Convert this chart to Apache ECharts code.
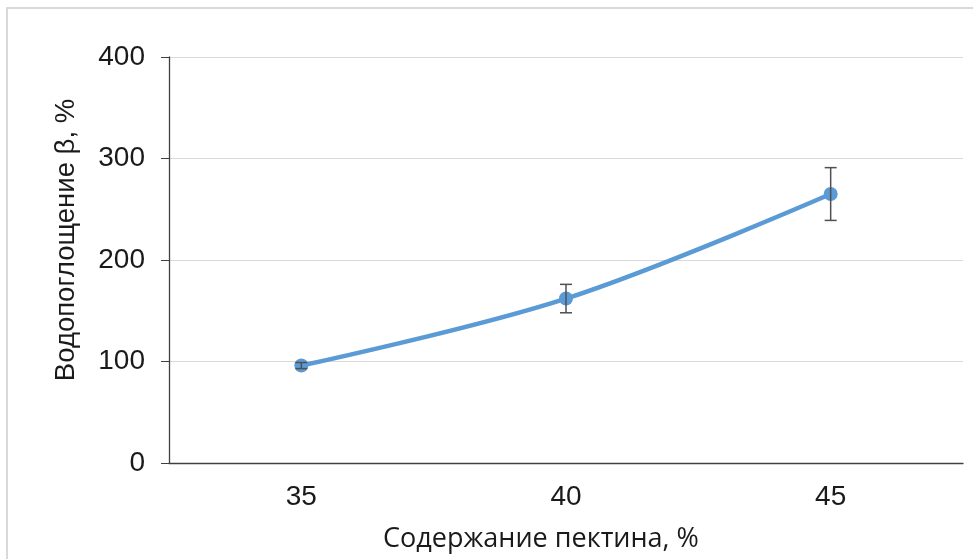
<!DOCTYPE html>
<html><head><meta charset="utf-8">
<script src="https://cdn.jsdelivr.net/npm/echarts@6/dist/echarts.min.js"></script>
<style>html,body{margin:0;padding:0;background:#fff;overflow:hidden}#c{width:973px;height:559px}</style>
</head><body><div id="c"></div>
<script>
const categories = ['35', '40', '45'];
const values = [96, 162, 265];
const errors = [3, 14, 26];
const yTicks = [0, 100, 200, 300, 400];
const xTitle = 'Содержание пектина, %';
const yTitle = 'Водопоглощение β, %';

const chart = echarts.init(document.getElementById('c'));
const errData = categories.map((c, i) => [i, values[i] - errors[i], values[i] + errors[i]]);
chart.setOption({
  animation: false,
  graphic: [
    {type: 'rect', shape: {x: 7, y: 8, width: 1100, height: 700}, style: {fill: 'none', stroke: '#d9d9d9', lineWidth: 2}, silent: true},
    {type: 'text', x: 541, y: 539, style: {text: xTitle, fill: '#1a1a1a', font: '27px "Open Sans", Lato, sans-serif', align: 'center', verticalAlign: 'middle'}},
    {type: 'text', x: 66, y: 240, rotation: Math.PI / 2, style: {text: yTitle, fill: '#1a1a1a', font: '27.5px "Liberation Sans", Arial, sans-serif', align: 'center', verticalAlign: 'middle'}}
  ],
  grid: {left: 169, top: 57, width: 794, height: 406, containLabel: false},
  xAxis: {
    type: 'category', data: categories, boundaryGap: true,
    axisLine: {lineStyle: {color: '#404040', width: 1.3}},
    axisTick: {show: false},
    axisLabel: {color: '#1a1a1a', fontSize: 28, fontFamily: 'Liberation Sans, Arial', margin: 20}
  },
  yAxis: {
    type: 'value', min: 0, max: 400, interval: 100,
    axisLine: {show: true, lineStyle: {color: '#404040', width: 1.3}},
    axisTick: {show: true, length: 8, lineStyle: {color: '#404040'}},
    splitLine: {lineStyle: {color: '#d9d9d9'}},
    axisLabel: {color: '#1a1a1a', fontSize: 28, fontFamily: 'Liberation Sans, Arial', margin: 24,
      formatter: v => yTicks.includes(v) ? String(v) : ''}
  },
  series: [
    {
      type: 'line', data: values, smooth: 0.35, symbol: 'circle', symbolSize: 14,
      lineStyle: {color: '#5b9bd5', width: 4.5}, itemStyle: {color: '#5b9bd5'}, z: 3
    },
    {
      type: 'custom', data: errData, z: 4,
      renderItem: (params, api) => {
        const x = api.value(0);
        const lo = api.coord([x, api.value(1)]);
        const hi = api.coord([x, api.value(2)]);
        const w = 6;
        const st = {stroke: '#505050', lineWidth: 1.5};
        return {type: 'group', children: [
          {type: 'line', shape: {x1: hi[0], y1: hi[1], x2: lo[0], y2: lo[1]}, style: st},
          {type: 'line', shape: {x1: hi[0] - w, y1: hi[1], x2: hi[0] + w, y2: hi[1]}, style: st},
          {type: 'line', shape: {x1: lo[0] - w, y1: lo[1], x2: lo[0] + w, y2: lo[1]}, style: st}
        ]};
      }
    }
  ]
});
</script></body></html>
